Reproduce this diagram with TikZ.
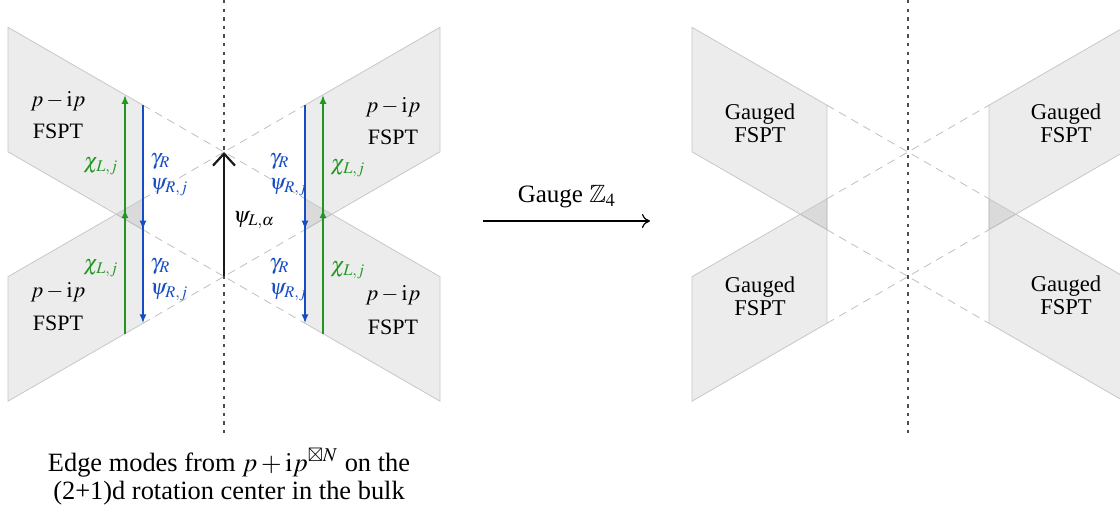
\documentclass[tikz,border=0pt]{standalone}
\usepackage{amssymb}
\usepackage{mathptmx}
\usepackage{fontspec}
\setmainfont{Liberation Serif}
\usetikzlibrary{arrows.meta}
\definecolor{mygreen}{RGB}{34,150,34}
\definecolor{myblue}{RGB}{22,76,196}
\begin{document}
\begin{tikzpicture}[x=0.5pt,y=-0.5pt,
  panel/.style={fill=black,fill opacity=0.075,draw=black!22,line width=0.4pt},
  guide/.style={draw=black!25,line width=0.4pt,dash pattern=on 4pt off 3pt},
  axisline/.style={draw=black!70,line width=0.7pt,dash pattern=on 1.7pt off 2.6pt},
  garrow/.style={draw=mygreen,line width=0.9pt,-{Latex[length=4.5pt,width=3.5pt]}},
  barrow/.style={draw=myblue,line width=0.9pt,-{Latex[length=4.5pt,width=3.5pt]}},
  karrow/.style={draw=black!90,line width=1.1pt,-{Straight Barb[length=6pt,width=11pt]}},
  lbl/.style={inner sep=0pt,font=\fontsize{11}{13}\selectfont},
  glbl/.style={inner sep=0pt,text=mygreen,font=\fontsize{11}{13}\selectfont},
  blbl/.style={inner sep=0pt,anchor=west,align=left,text=myblue,font=\fontsize{11}{12.5}\selectfont},
  gauged/.style={inner sep=0pt,align=center,font=\fontsize{11.3}{11.7}\selectfont},
  caption/.style={inner sep=0pt,align=center,font=\fontsize{13.2}{14}\selectfont}]
\useasboundingbox (0,0) rectangle (1120,512);

% ---------- left figure ----------
\path[panel] (8,27.3) -- (143,105.2) -- (143,229.7) -- (8,151.8) -- cycle;
\path[panel] (8,276.7) -- (143,198.8) -- (143,323.3) -- (8,401.2) -- cycle;
\path[panel] (440,27.3) -- (305,105.2) -- (305,229.7) -- (440,151.8) -- cycle;
\path[panel] (440,276.7) -- (305,198.8) -- (305,323.3) -- (440,401.2) -- cycle;

\coordinate (a1) at (143,105.2); \coordinate (a2) at (305,198.8);
\coordinate (b1) at (143,229.7); \coordinate (b2) at (305,323.3);
\coordinate (c1) at (143,198.8); \coordinate (c2) at (305,105.2);
\coordinate (d1) at (143,323.3); \coordinate (d2) at (305,229.7);
\draw[guide] (a1) -- (a2);
\draw[guide] (b1) -- (b2);
\draw[guide] (c1) -- (c2);
\draw[guide] (d1) -- (d2);

\coordinate (dtop) at (224,0); \coordinate (dbot) at (224,437);
\draw[axisline] (dtop) -- (dbot);

% green arrows
\coordinate (gl1s) at (125,219.4); \coordinate (gl1e) at (125,94.9);
\coordinate (gl2s) at (125,333.6); \coordinate (gl2e) at (125,209.2);
\coordinate (gr1s) at (323,219.4); \coordinate (gr1e) at (323,94.9);
\coordinate (gr2s) at (323,333.6); \coordinate (gr2e) at (323,209.2);
\draw[garrow] (gl1s) -- (gl1e);
\draw[garrow] (gl2s) -- (gl2e);
\draw[garrow] (gr1s) -- (gr1e);
\draw[garrow] (gr2s) -- (gr2e);
% blue arrows
\draw[barrow] (a1) -- (b1);
\draw[barrow] (c1) -- (d1);
\draw[barrow] (c2) -- (d2);
\draw[barrow] (a2) -- (b2);
% black arrow
\coordinate (kb) at (224,276.5); \coordinate (kt) at (224,152);
\draw[karrow] (kb) -- (kt);

% labels
\node[lbl] (tl1) at (58,101) {$p-\mathrm{i}p$};
\node[lbl] (tl2) at (58,131) {FSPT};
\node[lbl] (bl1) at (58,292) {$p-\mathrm{i}p$};
\node[lbl] (bl2) at (58,323) {FSPT};
\node[lbl] (tr1) at (393,107) {$p-\mathrm{i}p$};
\node[lbl] (tr2) at (393,137) {FSPT};
\node[lbl] (br1) at (393,295) {$p-\mathrm{i}p$};
\node[lbl] (br2) at (393,327) {FSPT};

\node[glbl] (chi1) at (101,166) {$\chi_{L,j}$};
\node[glbl] (chi2) at (101,268) {$\chi_{L,j}$};
\node[glbl] (chi3) at (348,168) {$\chi_{L,j}$};
\node[glbl] (chi4) at (348,270) {$\chi_{L,j}$};

\node[blbl] (gp1) at (150,175) {$\gamma_R$\\$\psi_{R,j}$};
\node[blbl] (gp2) at (150,280) {$\gamma_R$\\$\psi_{R,j}$};
\node[blbl] (gp3) at (269,175) {$\gamma_R$\\$\psi_{R,j}$};
\node[blbl] (gp4) at (269,280) {$\gamma_R$\\$\psi_{R,j}$};

\node[lbl] (psiL) at (254,220) {$\psi_{L,\alpha}$};

\node[caption] (cap) at (229,477) {Edge modes from $p+\mathrm{i}p^{\boxtimes N}$ on the\\(2+1)d rotation center in the bulk};

% ---------- gauge arrow ----------
\coordinate (ga) at (483,221); \coordinate (gb) at (650,221);
\draw[line width=0.6pt,-{To[length=4pt,width=7pt]}] (ga) -- (gb);
\node[inner sep=0pt,font=\fontsize{12.5}{14}\selectfont] (glab) at (567,197) {Gauge $\mathbb{Z}_4$};

% ---------- right figure ----------
\begin{scope}
\clip (0,0) rectangle (1120,512);
\begin{scope}[xshift=342pt]
\path[panel] (8,27.3) -- (143,105.2) -- (143,229.7) -- (8,151.8) -- cycle;
\path[panel] (8,276.7) -- (143,198.8) -- (143,323.3) -- (8,401.2) -- cycle;
\path[panel] (440,27.3) -- (305,105.2) -- (305,229.7) -- (440,151.8) -- cycle;
\path[panel] (440,276.7) -- (305,198.8) -- (305,323.3) -- (440,401.2) -- cycle;
\coordinate (ra1) at (143,105.2); \coordinate (ra2) at (305,198.8);
\coordinate (rb1) at (143,229.7); \coordinate (rb2) at (305,323.3);
\coordinate (rc1) at (143,198.8); \coordinate (rc2) at (305,105.2);
\coordinate (rd1) at (143,323.3); \coordinate (rd2) at (305,229.7);
\draw[guide] (ra1) -- (ra2);
\draw[guide] (rb1) -- (rb2);
\draw[guide] (rc1) -- (rc2);
\draw[guide] (rd1) -- (rd2);
\coordinate (rdtop) at (224,0); \coordinate (rdbot) at (224,436);
\draw[axisline] (rdtop) -- (rdbot);
\node[gauged] (g1) at (76,123) {Gauged\\FSPT};
\node[gauged] (g2) at (76,296) {Gauged\\FSPT};
\node[gauged] (g3) at (382,123) {Gauged\\FSPT};
\node[gauged] (g4) at (382,295) {Gauged\\FSPT};
\end{scope}
\end{scope}
\end{tikzpicture}
\end{document}
